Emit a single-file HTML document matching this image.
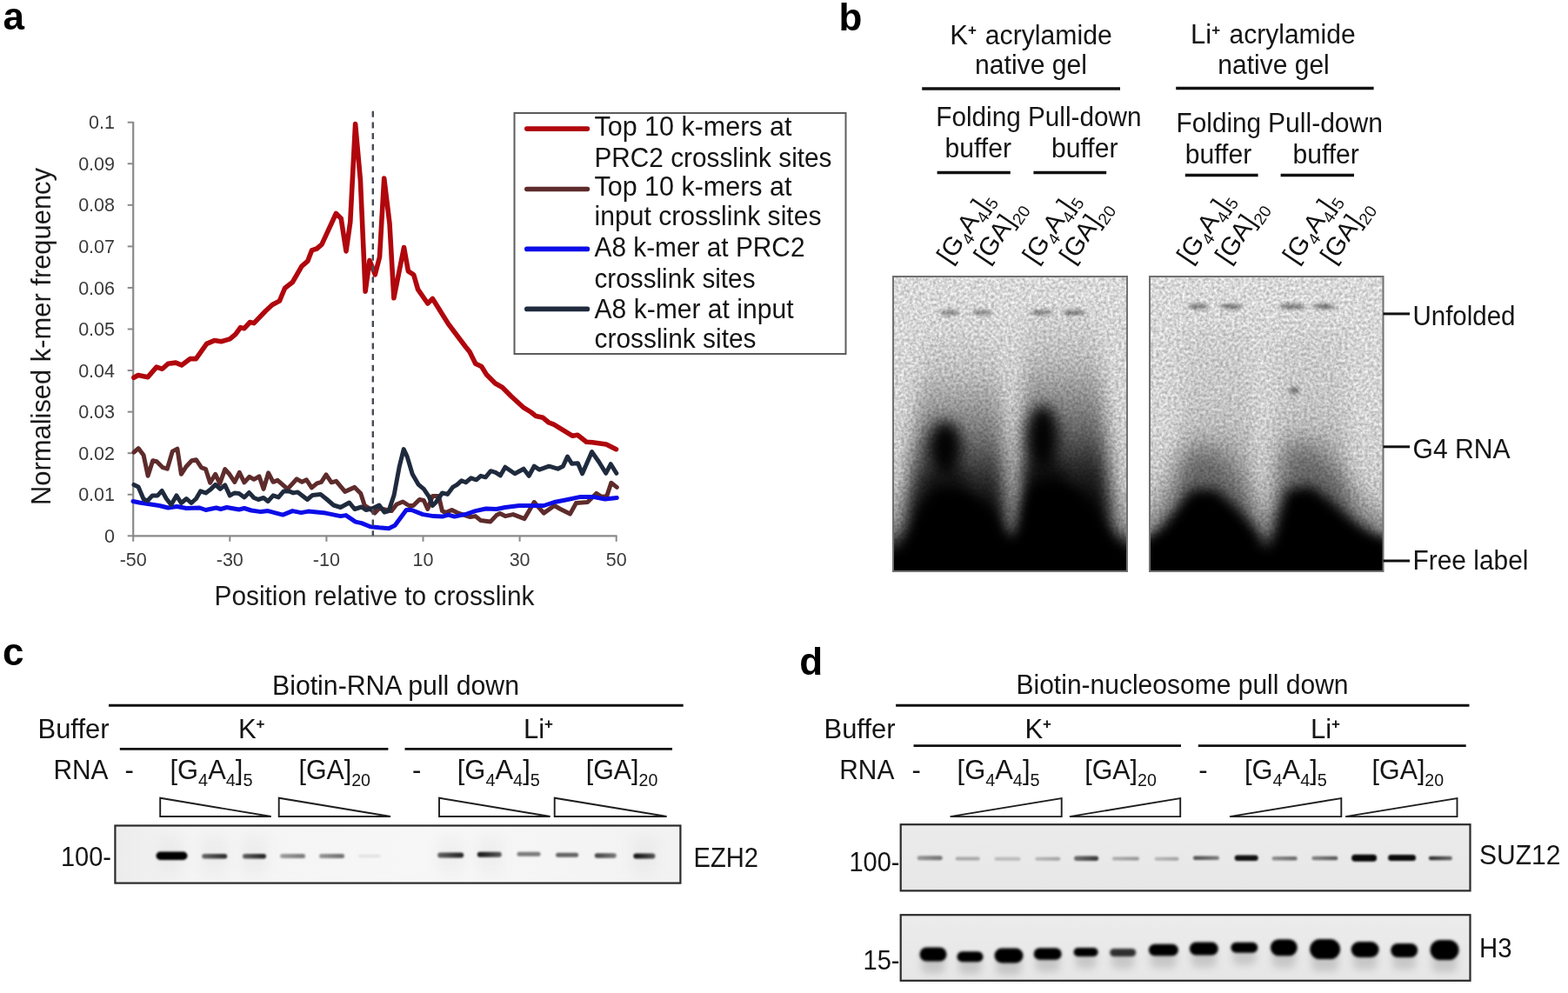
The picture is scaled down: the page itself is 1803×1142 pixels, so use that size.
<!DOCTYPE html>
<html><head><meta charset="utf-8"><title>Figure</title>
<style>html,body{margin:0;padding:0;background:#fff;}svg{display:block;}</style></head>
<body><svg width="1803" height="1142" viewBox="0 0 1803 1142" font-family="'Liberation Sans', Arial, Helvetica, sans-serif">
<defs>
<filter id="b12s" x="-50%" y="-100%" width="200%" height="300%"><feGaussianBlur stdDeviation="1.1"/></filter>
<filter id="b15" x="-50%" y="-100%" width="200%" height="300%"><feGaussianBlur stdDeviation="1.5"/></filter>
<filter id="b2" x="-50%" y="-100%" width="200%" height="300%"><feGaussianBlur stdDeviation="2"/></filter>
<filter id="b4" x="-50%" y="-100%" width="200%" height="300%"><feGaussianBlur stdDeviation="4"/></filter>
<filter id="b7" x="-30%" y="-30%" width="160%" height="160%"><feGaussianBlur stdDeviation="7"/></filter>
<filter id="b8" x="-50%" y="-50%" width="200%" height="200%"><feGaussianBlur stdDeviation="8"/></filter>
<filter id="b10" x="-50%" y="-50%" width="200%" height="200%"><feGaussianBlur stdDeviation="10"/></filter>
<filter id="b12" x="-50%" y="-50%" width="200%" height="200%"><feGaussianBlur stdDeviation="12"/></filter>
<filter id="b14" x="-50%" y="-50%" width="200%" height="200%"><feGaussianBlur stdDeviation="14"/></filter>
<filter id="b16" x="-50%" y="-50%" width="200%" height="200%"><feGaussianBlur stdDeviation="16"/></filter>
<filter id="gr" x="0" y="0" width="100%" height="100%" color-interpolation-filters="sRGB"><feTurbulence type="fractalNoise" baseFrequency="0.3" numOctaves="2" seed="5" result="t"/><feColorMatrix in="t" type="matrix" values="1 0 0 0 0 1 0 0 0 0 1 0 0 0 0 0 0 0 0 1" result="n0"/><feGaussianBlur in="n0" stdDeviation="0.5" result="n"/><feComposite in="SourceGraphic" in2="n" operator="arithmetic" k1="0.55" k2="0.73" k3="0" k4="0"/></filter>

<clipPath id="clipg1"><rect x="1027" y="318" width="269" height="339"/></clipPath>
<clipPath id="clipg2"><rect x="1322" y="318" width="268.5" height="339"/></clipPath>
<linearGradient id="gelbg" x1="0" y1="0" x2="0" y2="1"><stop offset="0" stop-color="#d8d8d8"/><stop offset="0.45" stop-color="#d2d2d2"/><stop offset="0.7" stop-color="#c6c6c6"/><stop offset="0.82" stop-color="#a8a8a8"/><stop offset="0.92" stop-color="#585858"/><stop offset="1" stop-color="#000"/></linearGradient>
<linearGradient id="gelbg2" x1="0" y1="0" x2="0" y2="1"><stop offset="0" stop-color="#d8d8d8"/><stop offset="0.5" stop-color="#d2d2d2"/><stop offset="0.76" stop-color="#c8c8c8"/><stop offset="0.86" stop-color="#bcbcbc"/><stop offset="0.93" stop-color="#7a7a7a"/><stop offset="1" stop-color="#000"/></linearGradient>
<linearGradient id="smear" x1="0" y1="0" x2="0" y2="1"><stop offset="0" stop-color="#000" stop-opacity="0"/><stop offset="0.2" stop-color="#000" stop-opacity="0.1"/><stop offset="0.45" stop-color="#000" stop-opacity="0.45"/><stop offset="0.62" stop-color="#000" stop-opacity="0.8"/><stop offset="0.75" stop-color="#000" stop-opacity="0.97"/><stop offset="1" stop-color="#000" stop-opacity="1"/></linearGradient><linearGradient id="smearR" x1="0" y1="0" x2="0" y2="1"><stop offset="0" stop-color="#000" stop-opacity="0"/><stop offset="0.2" stop-color="#000" stop-opacity="0.12"/><stop offset="0.45" stop-color="#000" stop-opacity="0.5"/><stop offset="0.62" stop-color="#000" stop-opacity="0.85"/><stop offset="0.75" stop-color="#000" stop-opacity="0.97"/><stop offset="1" stop-color="#000" stop-opacity="1"/></linearGradient>
<linearGradient id="smear2" x1="0" y1="0" x2="0" y2="1"><stop offset="0" stop-color="#000" stop-opacity="0.03"/><stop offset="0.4" stop-color="#000" stop-opacity="0.07"/><stop offset="0.7" stop-color="#000" stop-opacity="0.18"/><stop offset="1" stop-color="#000" stop-opacity="0.35"/></linearGradient><linearGradient id="botfade" x1="0" y1="0" x2="0" y2="1"><stop offset="0" stop-color="#000" stop-opacity="0"/><stop offset="0.35" stop-color="#000" stop-opacity="0.6"/><stop offset="0.55" stop-color="#000" stop-opacity="1"/><stop offset="1" stop-color="#000" stop-opacity="1"/></linearGradient>
<linearGradient id="blotc" x1="0" y1="0" x2="1" y2="0"><stop offset="0" stop-color="#ececec"/><stop offset="0.12" stop-color="#f4f4f4"/><stop offset="0.6" stop-color="#f7f7f7"/><stop offset="1" stop-color="#f2f2f2"/></linearGradient>
<linearGradient id="blots" x1="0" y1="0" x2="0" y2="1"><stop offset="0" stop-color="#ebebeb"/><stop offset="1" stop-color="#e7e7e7"/></linearGradient>
<linearGradient id="bloth" x1="0" y1="0" x2="0" y2="1"><stop offset="0" stop-color="#ececec"/><stop offset="1" stop-color="#e6e6e6"/></linearGradient>
<linearGradient id="bgR" x1="0" y1="0" x2="1" y2="0"><stop offset="0" stop-color="#000" stop-opacity="0.7"/><stop offset="0.75" stop-color="#000" stop-opacity="0.95"/><stop offset="1" stop-color="#000"/></linearGradient>
<linearGradient id="bgL" x1="0" y1="0" x2="1" y2="0"><stop offset="0" stop-color="#000"/><stop offset="0.25" stop-color="#000" stop-opacity="0.95"/><stop offset="1" stop-color="#000" stop-opacity="0.7"/></linearGradient>
</defs>
<rect width="1803" height="1142" fill="#fff"/>
<text x="3.5" y="34.3" font-size="44" fill="#000" font-weight="bold">a</text>
<line x1="153.2" y1="140" x2="153.2" y2="617.3" stroke="#8a8a8a" stroke-width="2.2"/>
<line x1="152.2" y1="616.3" x2="709.5" y2="616.3" stroke="#8a8a8a" stroke-width="2.2"/>
<line x1="146.7" y1="616.3" x2="153.2" y2="616.3" stroke="#8a8a8a" stroke-width="2"/>
<text x="132" y="623.9" font-size="21.5" fill="#3a3a3a" text-anchor="end">0</text>
<line x1="146.7" y1="568.74" x2="153.2" y2="568.74" stroke="#8a8a8a" stroke-width="2"/>
<text x="132" y="576.34" font-size="21.5" fill="#3a3a3a" text-anchor="end">0.01</text>
<line x1="146.7" y1="521.18" x2="153.2" y2="521.18" stroke="#8a8a8a" stroke-width="2"/>
<text x="132" y="528.78" font-size="21.5" fill="#3a3a3a" text-anchor="end">0.02</text>
<line x1="146.7" y1="473.61999999999995" x2="153.2" y2="473.61999999999995" stroke="#8a8a8a" stroke-width="2"/>
<text x="132" y="481.21999999999997" font-size="21.5" fill="#3a3a3a" text-anchor="end">0.03</text>
<line x1="146.7" y1="426.05999999999995" x2="153.2" y2="426.05999999999995" stroke="#8a8a8a" stroke-width="2"/>
<text x="132" y="433.65999999999997" font-size="21.5" fill="#3a3a3a" text-anchor="end">0.04</text>
<line x1="146.7" y1="378.49999999999994" x2="153.2" y2="378.49999999999994" stroke="#8a8a8a" stroke-width="2"/>
<text x="132" y="386.09999999999997" font-size="21.5" fill="#3a3a3a" text-anchor="end">0.05</text>
<line x1="146.7" y1="330.93999999999994" x2="153.2" y2="330.93999999999994" stroke="#8a8a8a" stroke-width="2"/>
<text x="132" y="338.53999999999996" font-size="21.5" fill="#3a3a3a" text-anchor="end">0.06</text>
<line x1="146.7" y1="283.37999999999994" x2="153.2" y2="283.37999999999994" stroke="#8a8a8a" stroke-width="2"/>
<text x="132" y="290.97999999999996" font-size="21.5" fill="#3a3a3a" text-anchor="end">0.07</text>
<line x1="146.7" y1="235.81999999999994" x2="153.2" y2="235.81999999999994" stroke="#8a8a8a" stroke-width="2"/>
<text x="132" y="243.41999999999993" font-size="21.5" fill="#3a3a3a" text-anchor="end">0.08</text>
<line x1="146.7" y1="188.25999999999993" x2="153.2" y2="188.25999999999993" stroke="#8a8a8a" stroke-width="2"/>
<text x="132" y="195.85999999999993" font-size="21.5" fill="#3a3a3a" text-anchor="end">0.09</text>
<line x1="146.7" y1="140.69999999999993" x2="153.2" y2="140.69999999999993" stroke="#8a8a8a" stroke-width="2"/>
<text x="132" y="148.29999999999993" font-size="21.5" fill="#3a3a3a" text-anchor="end">0.1</text>
<line x1="153.2" y1="616.3" x2="153.2" y2="622.8" stroke="#8a8a8a" stroke-width="2"/>
<text x="153.2" y="650.5" font-size="21.5" fill="#3a3a3a" text-anchor="middle">-50</text>
<line x1="264.29999999999995" y1="616.3" x2="264.29999999999995" y2="622.8" stroke="#8a8a8a" stroke-width="2"/>
<text x="264.29999999999995" y="650.5" font-size="21.5" fill="#3a3a3a" text-anchor="middle">-30</text>
<line x1="375.4" y1="616.3" x2="375.4" y2="622.8" stroke="#8a8a8a" stroke-width="2"/>
<text x="375.4" y="650.5" font-size="21.5" fill="#3a3a3a" text-anchor="middle">-10</text>
<line x1="486.49999999999994" y1="616.3" x2="486.49999999999994" y2="622.8" stroke="#8a8a8a" stroke-width="2"/>
<text x="486.49999999999994" y="650.5" font-size="21.5" fill="#3a3a3a" text-anchor="middle">10</text>
<line x1="597.5999999999999" y1="616.3" x2="597.5999999999999" y2="622.8" stroke="#8a8a8a" stroke-width="2"/>
<text x="597.5999999999999" y="650.5" font-size="21.5" fill="#3a3a3a" text-anchor="middle">30</text>
<line x1="708.7" y1="616.3" x2="708.7" y2="622.8" stroke="#8a8a8a" stroke-width="2"/>
<text x="708.7" y="650.5" font-size="21.5" fill="#3a3a3a" text-anchor="middle">50</text>
<polyline points="153.9,434.3 158.9,431.5 170.0,433.7 180.0,422.1 186.6,424.3 193.3,418.2 202.1,417.1 208.8,419.9 218.8,412.6 225.4,412.6 237.6,395.4 246.5,391.6 254.3,392.7 264.3,389.9 270.9,384.4 276.5,376.6 280.9,377.7 287.5,370.5 292.0,371.6 305.3,357.7 313.1,350.5 321.4,346.1 325.3,336.7 327.7,331.2 336.4,324.5 347.0,306.2 353.7,300.4 358.5,287.9 364.3,286.0 370.0,281.2 386.4,245.5 392.2,251.3 398.0,288.9 402.8,255.2 408.6,142.5 414.4,207.0 420.1,335.1 425.0,299.5 431.3,315.8 436.5,295.6 441.7,205.1 448.0,257.1 452.9,342.8 464.5,284.5 469.4,311.8 475.7,316.0 480.6,332.9 491.8,349.0 497.4,343.4 515.7,372.8 535.3,398.7 540.0,404.6 546.8,418.2 553.7,421.6 559.4,430.7 569.6,441.0 577.6,445.5 587.8,455.8 601.5,468.3 610.6,474.0 616.3,478.6 624.3,480.3 631.1,486.0 636.8,488.2 658.4,501.3 664.1,500.2 674.3,508.2 681.2,508.7 697.1,511.0 708.5,516.7" fill="none" stroke="#b0070d" stroke-width="5.6" stroke-linejoin="round" stroke-linecap="round"/>
<polyline points="154.0,520.1 159.1,515.6 165.1,523.6 170.1,547.3 175.7,529.7 180.2,530.7 187.2,537.7 192.3,539.2 198.3,519.1 203.9,516.1 208.4,545.3 214.4,536.2 220.5,529.7 225.5,528.7 231.5,537.7 236.6,539.7 241.6,555.3 247.7,545.3 252.7,556.3 258.7,539.7 263.8,545.3 269.8,554.3 275.3,543.3 280.9,554.8 286.9,548.3 292.0,551.3 298.0,547.8 303.1,562.4 308.6,543.8 314.1,554.3 319.2,552.3 330.7,562.4 341.3,550.8 347.3,554.3 352.4,551.8 358.4,560.9 364.5,555.8 369.5,554.3 375.0,545.8 381.1,554.8 386.6,553.3 396.7,565.4 407.8,560.4 414.8,567.4 419.3,581.5 425.9,585.5 430.9,590.1 436.0,584.5 450.1,587.6 456.1,580.0 463.2,577.0 470.2,581.5 475.2,581.5 482.3,574.5 487.3,575.5 491.8,585.5 497.4,570.4 504.4,570.4 508.5,587.6 512.5,589.6 519.5,586.5 525.6,589.6 540.7,594.6 546.7,593.6 552.8,598.6 563.8,600.1 570.9,592.6 574.9,590.6 580.9,593.6 590.0,591.6 603.1,596.6 614.2,577.5 625.3,590.1 637.4,581.5 644.4,585.5 655.5,591.1 662.5,578.5 675.6,577.5 685.7,567.4 691.7,571.4 697.8,570.4 702.8,555.3 709.3,560.4" fill="none" stroke="#5e2b2b" stroke-width="5" stroke-linejoin="round" stroke-linecap="round"/>
<polyline points="153.0,576.5 160.1,578.0 170.1,579.5 183.2,581.5 193.3,584.0 203.4,582.5 214.4,584.5 229.5,584.0 236.6,586.5 248.7,584.0 253.7,585.5 260.7,583.5 274.8,586.0 280.9,584.5 288.9,587.0 300.0,588.6 308.1,587.6 325.2,592.1 336.3,587.6 346.3,589.6 354.4,588.1 374.5,590.1 391.6,593.6 397.7,592.6 408.8,600.1 415.8,601.6 425.9,605.7 436.0,606.8 447.0,607.7 454.1,604.2 467.2,586.5 473.2,586.5 486.3,591.6 498.4,593.6 508.5,594.1 515.5,592.1 522.6,594.1 536.6,591.1 546.7,587.6 558.8,585.0 570.9,585.5 580.9,583.5 597.1,581.5 610.2,581.5 625.3,581.5 637.4,577.5 650.4,575.0 667.6,571.4 681.6,571.4 695.7,574.0 709.3,572.5" fill="none" stroke="#0c0ce8" stroke-width="5" stroke-linejoin="round" stroke-linecap="round"/>
<polyline points="154.0,557.4 159.1,559.9 165.1,574.0 169.6,576.0 175.2,569.9 181.2,569.9 186.2,564.4 191.3,573.5 196.8,580.5 202.9,569.9 208.4,578.5 214.4,573.5 220.0,578.5 225.5,573.5 230.5,564.9 236.6,566.9 242.6,562.4 247.7,557.4 253.2,562.4 258.7,557.9 264.3,569.9 269.8,566.9 274.8,567.4 280.9,571.9 286.4,566.4 292.0,572.5 297.0,574.5 303.1,572.5 308.1,576.5 314.1,569.9 320.2,571.9 326.2,564.9 332.2,564.9 337.3,566.9 342.3,565.9 353.4,574.5 359.4,569.4 368.5,568.4 375.5,574.0 383.6,581.0 391.6,583.5 401.7,578.0 407.8,585.5 415.8,583.0 420.8,586.5 428.9,584.5 436.0,581.0 442.0,589.1 447.0,587.6 453.1,569.4 459.1,537.2 464.2,516.6 468.2,525.1 474.2,545.3 481.3,557.4 487.3,562.4 493.4,571.4 497.4,581.5 501.4,577.5 508.5,566.9 514.5,568.4 520.5,560.4 525.6,557.4 530.6,552.8 535.6,554.8 541.7,549.8 547.7,551.8 552.8,547.3 558.3,548.8 564.3,541.7 569.9,543.3 575.4,546.8 580.9,537.2 592.0,544.8 602.1,539.2 608.2,547.3 614.2,536.2 620.2,540.2 631.3,536.2 641.4,539.2 647.4,536.2 652.5,525.1 657.5,533.2 664.5,532.7 669.6,544.8 680.6,519.6 688.7,531.2 696.7,544.3 702.3,533.7 708.8,544.3" fill="none" stroke="#1f2b3d" stroke-width="5" stroke-linejoin="round" stroke-linecap="round"/>
<line x1="428.8" y1="127.7" x2="428.8" y2="616" stroke="#464b56" stroke-width="2.4" stroke-dasharray="7,5.7"/>
<text x="246.5" y="696.1" font-size="31" fill="#1a1a1a" textLength="368" lengthAdjust="spacingAndGlyphs">Position relative to crosslink</text>
<text transform="translate(58,581) rotate(-90)" font-size="31" fill="#1a1a1a" textLength="388" lengthAdjust="spacingAndGlyphs">Normalised k-mer frequency</text>
<rect x="591.5" y="130" width="381" height="277" fill="#fff" stroke="#5c5c5c" stroke-width="2"/>
<line x1="605.8" y1="148.1" x2="675.4" y2="148.1" stroke="#b0070d" stroke-width="5.6" stroke-linecap="round"/>
<line x1="605.8" y1="217.5" x2="675.4" y2="217.5" stroke="#5e2b2b" stroke-width="5.6" stroke-linecap="round"/>
<line x1="605.8" y1="286.4" x2="675.4" y2="286.4" stroke="#0c0ce8" stroke-width="5.6" stroke-linecap="round"/>
<line x1="605.8" y1="355.4" x2="675.4" y2="355.4" stroke="#1f2b3d" stroke-width="5.6" stroke-linecap="round"/>
<text x="683.5" y="156.0" font-size="31" fill="#141414" textLength="227" lengthAdjust="spacingAndGlyphs">Top 10 k-mers at</text>
<text x="683.5" y="191.5" font-size="31" fill="#141414" textLength="273" lengthAdjust="spacingAndGlyphs">PRC2 crosslink sites</text>
<text x="683.5" y="224.5" font-size="31" fill="#141414" textLength="227" lengthAdjust="spacingAndGlyphs">Top 10 k-mers at</text>
<text x="683.5" y="258.8" font-size="31" fill="#141414" textLength="261" lengthAdjust="spacingAndGlyphs">input crosslink sites</text>
<text x="683.5" y="295.1" font-size="31" fill="#141414" textLength="242" lengthAdjust="spacingAndGlyphs">A8 k-mer at PRC2</text>
<text x="683.5" y="330.6" font-size="31" fill="#141414" textLength="185" lengthAdjust="spacingAndGlyphs">crosslink sites</text>
<text x="683.5" y="366.0" font-size="31" fill="#141414" textLength="229" lengthAdjust="spacingAndGlyphs">A8 k-mer at input</text>
<text x="683.5" y="400.4" font-size="31" fill="#141414" textLength="186" lengthAdjust="spacingAndGlyphs">crosslink sites</text>
<text x="964.5" y="34.6" font-size="44" fill="#000" font-weight="bold">b</text>
<text x="1092.2" y="50.7" font-size="31" fill="#141414">K</text>
<text x="1113" y="40" font-size="17" fill="#141414" font-weight="bold">+</text>
<text x="1132.8" y="50.7" font-size="31" fill="#141414" textLength="146" lengthAdjust="spacingAndGlyphs">acrylamide</text>
<text x="1121" y="85.4" font-size="31" fill="#141414" textLength="129" lengthAdjust="spacingAndGlyphs">native gel</text>
<line x1="1060.2" y1="102.1" x2="1288" y2="102.1" stroke="#111" stroke-width="3.5"/>
<text x="1076.3" y="145.1" font-size="31" fill="#141414" textLength="97.5" lengthAdjust="spacingAndGlyphs">Folding</text>
<text x="1182" y="145.1" font-size="31" fill="#141414" textLength="130.5" lengthAdjust="spacingAndGlyphs">Pull-down</text>
<text x="1086.5" y="180.8" font-size="31" fill="#141414" textLength="76.5" lengthAdjust="spacingAndGlyphs">buffer</text>
<text x="1209" y="180.8" font-size="31" fill="#141414" textLength="76.5" lengthAdjust="spacingAndGlyphs">buffer</text>
<line x1="1077.6" y1="198.5" x2="1161.8" y2="198.5" stroke="#111" stroke-width="3.5"/>
<line x1="1188.4" y1="198.5" x2="1272.2" y2="198.5" stroke="#111" stroke-width="3.5"/>
<text x="1369" y="50.3" font-size="31" fill="#141414">Li</text>
<text x="1393.3" y="40" font-size="17" fill="#141414" font-weight="bold">+</text>
<text x="1413.6" y="50.3" font-size="31" fill="#141414" textLength="145" lengthAdjust="spacingAndGlyphs">acrylamide</text>
<text x="1400.3" y="85.4" font-size="31" fill="#141414" textLength="128.5" lengthAdjust="spacingAndGlyphs">native gel</text>
<line x1="1352.2" y1="101.6" x2="1579.6" y2="101.6" stroke="#111" stroke-width="3.5"/>
<text x="1352.6" y="151.9" font-size="31" fill="#141414" textLength="97.5" lengthAdjust="spacingAndGlyphs">Folding</text>
<text x="1458" y="151.9" font-size="31" fill="#141414" textLength="132" lengthAdjust="spacingAndGlyphs">Pull-down</text>
<text x="1362.7" y="187.5" font-size="31" fill="#141414" textLength="76.5" lengthAdjust="spacingAndGlyphs">buffer</text>
<text x="1486.4" y="187.5" font-size="31" fill="#141414" textLength="76.5" lengthAdjust="spacingAndGlyphs">buffer</text>
<line x1="1362.8" y1="201.4" x2="1446.6" y2="201.4" stroke="#111" stroke-width="3.5"/>
<line x1="1472.6" y1="201.4" x2="1557" y2="201.4" stroke="#111" stroke-width="3.5"/>
<text transform="translate(1092.4,304.7) rotate(-56)" font-size="29.5" fill="#111"><tspan font-size="29.5">[G</tspan><tspan font-size="19" dy="7">4</tspan><tspan font-size="29.5" dy="-7">A</tspan><tspan font-size="19" dy="7">4</tspan><tspan font-size="29.5" dy="-7">]</tspan><tspan font-size="19" dy="7">5</tspan></text>
<text transform="translate(1135.0,304.7) rotate(-56)" font-size="29.5" fill="#111"><tspan font-size="29.5">[GA]</tspan><tspan font-size="19" dy="7">20</tspan></text>
<text transform="translate(1190.9,304.7) rotate(-56)" font-size="29.5" fill="#111"><tspan font-size="29.5">[G</tspan><tspan font-size="19" dy="7">4</tspan><tspan font-size="29.5" dy="-7">A</tspan><tspan font-size="19" dy="7">4</tspan><tspan font-size="29.5" dy="-7">]</tspan><tspan font-size="19" dy="7">5</tspan></text>
<text transform="translate(1233.5,304.7) rotate(-56)" font-size="29.5" fill="#111"><tspan font-size="29.5">[GA]</tspan><tspan font-size="19" dy="7">20</tspan></text>
<text transform="translate(1368.4,304.7) rotate(-56)" font-size="29.5" fill="#111"><tspan font-size="29.5">[G</tspan><tspan font-size="19" dy="7">4</tspan><tspan font-size="29.5" dy="-7">A</tspan><tspan font-size="19" dy="7">4</tspan><tspan font-size="29.5" dy="-7">]</tspan><tspan font-size="19" dy="7">5</tspan></text>
<text transform="translate(1412.4,304.7) rotate(-56)" font-size="29.5" fill="#111"><tspan font-size="29.5">[GA]</tspan><tspan font-size="19" dy="7">20</tspan></text>
<text transform="translate(1490.3,304.7) rotate(-56)" font-size="29.5" fill="#111"><tspan font-size="29.5">[G</tspan><tspan font-size="19" dy="7">4</tspan><tspan font-size="29.5" dy="-7">A</tspan><tspan font-size="19" dy="7">4</tspan><tspan font-size="29.5" dy="-7">]</tspan><tspan font-size="19" dy="7">5</tspan></text>
<text transform="translate(1533.5,304.7) rotate(-56)" font-size="29.5" fill="#111"><tspan font-size="29.5">[GA]</tspan><tspan font-size="19" dy="7">20</tspan></text>
<g clip-path="url(#clipg1)"><g filter="url(#gr)">
<rect x="1027" y="318" width="269" height="339" fill="url(#gelbg)"/>
<g filter="url(#b10)">
<polygon points="1064,370 1150,370 1160,665 1034,665" fill="url(#smear)"/>
<polygon points="1177,350 1262,350 1284,665 1172,665" fill="url(#smearR)"/>
</g>
<g filter="url(#b2)" fill="#707070">
<ellipse cx="1092" cy="359.5" rx="12" ry="2.4"/>
<ellipse cx="1129" cy="359.5" rx="12" ry="2.4"/>
<ellipse cx="1198" cy="359.5" rx="13" ry="2.4"/>
<ellipse cx="1236" cy="359.5" rx="13" ry="2.4"/>
<circle cx="1229" cy="359.5" r="2.2" fill="#222"/>
</g>
<g filter="url(#b8)" fill="#000">
<ellipse cx="1087" cy="514" rx="19" ry="30" opacity="0.97"/>
<ellipse cx="1199" cy="502" rx="18" ry="36" opacity="0.97"/>
<ellipse cx="1090" cy="552" rx="24" ry="14" opacity="0.55"/>
<ellipse cx="1202" cy="546" rx="24" ry="16" opacity="0.55"/>
</g>
<path filter="url(#b7)" fill="#000" d="M1020,670 L1020,652 L1040,632 L1052,606 L1062,580 L1072,560 L1104,560 L1124,572 L1142,590 L1152,610 L1162,622 L1170,610 L1176,580 L1184,555 L1214,550 L1236,560 L1254,578 L1266,600 L1280,620 L1300,636 L1300,670 Z"/>
<rect x="1020" y="610" width="290" height="60" fill="url(#botfade)" filter="url(#b4)"/>
</g></g>
<rect x="1027" y="318" width="269" height="339" fill="none" stroke="#707070" stroke-width="2"/>
<g clip-path="url(#clipg2)"><g filter="url(#gr)">
<rect x="1322" y="318" width="268.5" height="339" fill="url(#gelbg2)"/>
<g filter="url(#b10)">
<polygon points="1358,375 1440,375 1440,600 1358,600" fill="url(#smear2)"/>
<polygon points="1466,375 1548,375 1548,600 1466,600" fill="url(#smear2)"/>
</g>
<g filter="url(#b2)" fill="#5e5e5e">
<ellipse cx="1378" cy="352.5" rx="12" ry="2.4"/>
<ellipse cx="1416" cy="352.5" rx="13" ry="2.4"/>
<ellipse cx="1486" cy="352.5" rx="15" ry="2.4"/>
<ellipse cx="1523" cy="352.5" rx="13" ry="2.4"/>
<ellipse cx="1488" cy="449" rx="6" ry="3.5" fill="#6a6a6a"/>
</g>
<path filter="url(#b14)" fill="#000" fill-opacity="0.38" d="M1364,515 L1406,515 L1446,595 L1464,595 L1478,510 L1512,510 L1575,585 L1600,605 L1600,670 L1315,670 L1315,610 Z"/>
<path filter="url(#b7)" fill="#000" d="M1315,670 L1315,624 L1334,608 L1352,586 L1370,563 L1398,563 L1426,588 L1446,610 L1452,634 L1460,634 L1466,606 L1480,563 L1508,559 L1532,578 L1556,598 L1578,614 L1600,624 L1600,670 Z"/>
<rect x="1315" y="612" width="290" height="60" fill="url(#botfade)" filter="url(#b4)"/>
</g></g>
<rect x="1322" y="318" width="268.5" height="339" fill="none" stroke="#707070" stroke-width="2"/>
<line x1="1590.5" y1="360.9" x2="1621" y2="360.9" stroke="#111" stroke-width="3"/>
<text x="1624.5" y="373.5" font-size="31" fill="#141414" textLength="118" lengthAdjust="spacingAndGlyphs">Unfolded</text>
<line x1="1590.5" y1="513.8" x2="1621" y2="513.8" stroke="#111" stroke-width="3"/>
<text x="1624.5" y="527.3" font-size="31" fill="#141414" textLength="112" lengthAdjust="spacingAndGlyphs">G4 RNA</text>
<line x1="1590.5" y1="645" x2="1621" y2="645" stroke="#111" stroke-width="3"/>
<text x="1624.5" y="655.2" font-size="31" fill="#141414" textLength="133" lengthAdjust="spacingAndGlyphs">Free label</text>
<text x="3" y="765.3" font-size="44" fill="#000" font-weight="bold">c</text>
<text x="313" y="798.9" font-size="31" fill="#141414" textLength="284" lengthAdjust="spacingAndGlyphs">Biotin-RNA pull down</text>
<line x1="125" y1="811.3" x2="785.7" y2="811.3" stroke="#111" stroke-width="3"/>
<text x="43.5" y="848.5" font-size="31" fill="#141414" textLength="82" lengthAdjust="spacingAndGlyphs">Buffer</text>
<text x="274" y="848.5" font-size="31" fill="#141414">K</text>
<text x="294.5" y="838" font-size="17" fill="#141414" font-weight="bold">+</text>
<text x="602" y="848.6" font-size="31" fill="#141414">Li</text>
<text x="626" y="838" font-size="17" fill="#141414" font-weight="bold">+</text>
<line x1="137.8" y1="861.4" x2="446.4" y2="861.4" stroke="#111" stroke-width="2.6"/>
<line x1="465.5" y1="861.4" x2="773" y2="861.4" stroke="#111" stroke-width="2.6"/>
<text x="61.5" y="896.4" font-size="31" fill="#141414" textLength="63" lengthAdjust="spacingAndGlyphs">RNA</text>
<text x="143.5" y="896.4" font-size="31" fill="#141414">-</text>
<text x="474" y="896.4" font-size="31" fill="#141414">-</text>
<text x="195.5" y="896.1" font-size="31" fill="#141414" textLength="95" lengthAdjust="spacingAndGlyphs"><tspan>[G</tspan><tspan font-size="20" dy="7.5">4</tspan><tspan font-size="31" dy="-7.5">A</tspan><tspan font-size="20" dy="7.5">4</tspan><tspan font-size="31" dy="-7.5">]</tspan><tspan font-size="20" dy="7.5">5</tspan></text>
<text x="343.5" y="896.1" font-size="31" fill="#141414" textLength="82.5" lengthAdjust="spacingAndGlyphs"><tspan>[GA]</tspan><tspan font-size="20" dy="7.5">20</tspan></text>
<text x="525.8" y="896.1" font-size="31" fill="#141414" textLength="95" lengthAdjust="spacingAndGlyphs"><tspan>[G</tspan><tspan font-size="20" dy="7.5">4</tspan><tspan font-size="31" dy="-7.5">A</tspan><tspan font-size="20" dy="7.5">4</tspan><tspan font-size="31" dy="-7.5">]</tspan><tspan font-size="20" dy="7.5">5</tspan></text>
<text x="673.8" y="896.1" font-size="31" fill="#141414" textLength="82.5" lengthAdjust="spacingAndGlyphs"><tspan>[GA]</tspan><tspan font-size="20" dy="7.5">20</tspan></text>
<polygon points="184.2,917.7 184.2,939 311.7,939" fill="#fff" stroke="#1e1e1e" stroke-width="1.9" stroke-linejoin="miter"/>
<polygon points="320.7,917.7 320.7,939 449,939" fill="#fff" stroke="#1e1e1e" stroke-width="1.9" stroke-linejoin="miter"/>
<polygon points="505,917.7 505,939 632.6,939" fill="#fff" stroke="#1e1e1e" stroke-width="1.9" stroke-linejoin="miter"/>
<polygon points="637.7,917.7 637.7,939 766.6,939" fill="#fff" stroke="#1e1e1e" stroke-width="1.9" stroke-linejoin="miter"/>
<rect x="132.4" y="949.5" width="650" height="66.1" fill="url(#blotc)"/>
<g filter="url(#b8)" fill="#000">
<rect x="183" y="962" width="28" height="44" fill-opacity="0.03"/>
<rect x="232.5" y="962" width="28" height="44" fill-opacity="0.03"/>
<rect x="278.5" y="962" width="28" height="44" fill-opacity="0.03"/>
<rect x="504" y="962" width="28" height="44" fill-opacity="0.03"/>
<rect x="549" y="962" width="28" height="44" fill-opacity="0.03"/>
<rect x="727" y="962" width="28" height="44" fill-opacity="0.03"/>
</g>
<rect x="179.5" y="979.5" width="36" height="9.5" rx="4.8" ry="4.8" fill="#000" opacity="1.0" filter="url(#b12s)"/>
<rect x="232.2" y="982.0" width="29" height="5.5" rx="2.8" ry="2.8" fill="url(#bgR)" opacity="0.82" filter="url(#b12s)"/>
<rect x="279.0" y="982.0" width="27" height="5.5" rx="2.8" ry="2.8" fill="url(#bgR)" opacity="0.86" filter="url(#b12s)"/>
<rect x="322.0" y="982.0" width="29" height="5" rx="2.5" ry="2.5" fill="url(#bgR)" opacity="0.5" filter="url(#b12s)"/>
<rect x="367.0" y="982.0" width="29" height="5" rx="2.5" ry="2.5" fill="url(#bgR)" opacity="0.55" filter="url(#b12s)"/>
<rect x="412.0" y="982.5" width="26" height="4" rx="2.0" ry="2.0" fill="#000" opacity="0.07" filter="url(#b12s)"/>
<rect x="503.2" y="980.6" width="30" height="6" rx="3.0" ry="3.0" fill="url(#bgR)" opacity="0.85" filter="url(#b12s)"/>
<rect x="548.8" y="979.8" width="28" height="6" rx="3.0" ry="3.0" fill="url(#bgL)" opacity="0.9" filter="url(#b12s)"/>
<rect x="594.5" y="979.8" width="27" height="5" rx="2.5" ry="2.5" fill="#000" opacity="0.5" filter="url(#b12s)"/>
<rect x="639.1" y="980.7" width="26" height="5" rx="2.5" ry="2.5" fill="#000" opacity="0.6" filter="url(#b12s)"/>
<rect x="683.8" y="981.2" width="25" height="5.5" rx="2.8" ry="2.8" fill="url(#bgL)" opacity="0.72" filter="url(#b12s)"/>
<rect x="728.4" y="981.5" width="25" height="6" rx="3.0" ry="3.0" fill="url(#bgL)" opacity="0.92" filter="url(#b12s)"/>
<rect x="132.4" y="949.5" width="650" height="66.1" fill="none" stroke="#2a2a2a" stroke-width="2.2"/>
<text x="70" y="996.0" font-size="31" fill="#141414" textLength="58" lengthAdjust="spacingAndGlyphs">100-</text>
<text x="797.5" y="996.6" font-size="31" fill="#141414" textLength="74.5" lengthAdjust="spacingAndGlyphs">EZH2</text>
<text x="919.3" y="776.2" font-size="44" fill="#000" font-weight="bold">d</text>
<text x="1168.5" y="798.2" font-size="31" fill="#141414" textLength="382" lengthAdjust="spacingAndGlyphs">Biotin-nucleosome pull down</text>
<line x1="1030.1" y1="811.3" x2="1689.5" y2="811.3" stroke="#111" stroke-width="3"/>
<text x="947.5" y="848.5" font-size="31" fill="#141414" textLength="82" lengthAdjust="spacingAndGlyphs">Buffer</text>
<text x="1178.5" y="848.5" font-size="31" fill="#141414">K</text>
<text x="1199" y="838" font-size="17" fill="#141414" font-weight="bold">+</text>
<text x="1507" y="848.6" font-size="31" fill="#141414">Li</text>
<text x="1531" y="838" font-size="17" fill="#141414" font-weight="bold">+</text>
<line x1="1050.5" y1="857.6" x2="1358" y2="857.6" stroke="#111" stroke-width="2.6"/>
<line x1="1377.8" y1="857.6" x2="1685.7" y2="857.6" stroke="#111" stroke-width="2.6"/>
<text x="965.3" y="896.4" font-size="31" fill="#141414" textLength="63" lengthAdjust="spacingAndGlyphs">RNA</text>
<text x="1048.5" y="896.4" font-size="31" fill="#141414">-</text>
<text x="1378.2" y="896.4" font-size="31" fill="#141414">-</text>
<text x="1100.6" y="896.1" font-size="31" fill="#141414" textLength="95" lengthAdjust="spacingAndGlyphs"><tspan>[G</tspan><tspan font-size="20" dy="7.5">4</tspan><tspan font-size="31" dy="-7.5">A</tspan><tspan font-size="20" dy="7.5">4</tspan><tspan font-size="31" dy="-7.5">]</tspan><tspan font-size="20" dy="7.5">5</tspan></text>
<text x="1247.3" y="896.1" font-size="31" fill="#141414" textLength="82.5" lengthAdjust="spacingAndGlyphs"><tspan>[GA]</tspan><tspan font-size="20" dy="7.5">20</tspan></text>
<text x="1430.9" y="896.1" font-size="31" fill="#141414" textLength="95" lengthAdjust="spacingAndGlyphs"><tspan>[G</tspan><tspan font-size="20" dy="7.5">4</tspan><tspan font-size="31" dy="-7.5">A</tspan><tspan font-size="20" dy="7.5">4</tspan><tspan font-size="31" dy="-7.5">]</tspan><tspan font-size="20" dy="7.5">5</tspan></text>
<text x="1577.6" y="896.1" font-size="31" fill="#141414" textLength="82.5" lengthAdjust="spacingAndGlyphs"><tspan>[GA]</tspan><tspan font-size="20" dy="7.5">20</tspan></text>
<polygon points="1092.6,939.1 1220.7,939.1 1220.7,918" fill="#fff" stroke="#1e1e1e" stroke-width="1.9" stroke-linejoin="miter"/>
<polygon points="1229.9,939.1 1357.2,939.1 1357.2,918" fill="#fff" stroke="#1e1e1e" stroke-width="1.9" stroke-linejoin="miter"/>
<polygon points="1414,939.1 1542.3,939.1 1542.3,918" fill="#fff" stroke="#1e1e1e" stroke-width="1.9" stroke-linejoin="miter"/>
<polygon points="1547.1,939.1 1675.5,939.1 1675.5,918" fill="#fff" stroke="#1e1e1e" stroke-width="1.9" stroke-linejoin="miter"/>
<rect x="1035.7" y="948.2" width="654.8" height="76.2" fill="url(#blots)"/>
<rect x="1054.7" y="984.3" width="29" height="5" rx="2.5" ry="2.5" fill="url(#bgR)" opacity="0.5" filter="url(#b12s)"/>
<rect x="1098.7" y="985.5" width="28" height="4" rx="2.0" ry="2.0" fill="#000" opacity="0.28" filter="url(#b12s)"/>
<rect x="1143.5" y="985.8" width="30" height="4" rx="2.0" ry="2.0" fill="#000" opacity="0.2" filter="url(#b12s)"/>
<rect x="1190.2" y="985.8" width="29" height="4" rx="2.0" ry="2.0" fill="url(#bgR)" opacity="0.3" filter="url(#b12s)"/>
<rect x="1235.1" y="984.5" width="28" height="5.5" rx="2.8" ry="2.8" fill="url(#bgR)" opacity="0.75" filter="url(#b12s)"/>
<rect x="1278.9" y="985.6" width="31" height="4" rx="2.0" ry="2.0" fill="url(#bgR)" opacity="0.36" filter="url(#b12s)"/>
<rect x="1327.5" y="985.8" width="28" height="4" rx="2.0" ry="2.0" fill="url(#bgR)" opacity="0.3" filter="url(#b12s)"/>
<rect x="1372.0" y="984.5" width="30" height="4.5" rx="2.2" ry="2.2" fill="url(#bgL)" opacity="0.66" filter="url(#b12s)"/>
<rect x="1419.7" y="983.5" width="27" height="6.5" rx="3.2" ry="3.2" fill="#000" opacity="0.93" filter="url(#b12s)"/>
<rect x="1462.6" y="985.0" width="29" height="4.5" rx="2.2" ry="2.2" fill="url(#bgR)" opacity="0.55" filter="url(#b12s)"/>
<rect x="1508.3" y="984.8" width="30" height="4.5" rx="2.2" ry="2.2" fill="url(#bgR)" opacity="0.62" filter="url(#b12s)"/>
<rect x="1554.1" y="982.8" width="29" height="8" rx="4.0" ry="4.0" fill="#000" opacity="0.97" filter="url(#b12s)"/>
<rect x="1596.1" y="983.1" width="32" height="7" rx="3.5" ry="3.5" fill="#000" opacity="0.95" filter="url(#b12s)"/>
<rect x="1642.9" y="984.8" width="27" height="4.5" rx="2.2" ry="2.2" fill="url(#bgL)" opacity="0.8" filter="url(#b12s)"/>
<rect x="1035.7" y="948.2" width="654.8" height="76.2" fill="none" stroke="#2a2a2a" stroke-width="2.2"/>
<text x="976.5" y="1001.6" font-size="31" fill="#141414" textLength="58" lengthAdjust="spacingAndGlyphs">100-</text>
<text x="1701" y="993.5" font-size="31" fill="#141414" textLength="93.5" lengthAdjust="spacingAndGlyphs">SUZ12</text>
<rect x="1035.7" y="1052.2" width="654.8" height="75.6" fill="url(#bloth)"/>
<g filter="url(#b4)" fill="#000">
<rect x="1059.5" y="1097.5" width="27" height="22.0" rx="6" fill-opacity="0.14"/>
<rect x="1102.5" y="1100.3" width="26" height="20.0" rx="6" fill-opacity="0.14"/>
<rect x="1145.5" y="1099" width="29" height="22.5" rx="6" fill-opacity="0.14"/>
<rect x="1190.7" y="1097" width="28" height="20.75" rx="6" fill-opacity="0.14"/>
<rect x="1236.6" y="1095" width="24" height="19.0" rx="6" fill-opacity="0.14"/>
<rect x="1278.2" y="1095.5" width="26" height="18.5" rx="6" fill-opacity="0.14"/>
<rect x="1322.9" y="1092.5" width="30" height="20.75" rx="6" fill-opacity="0.14"/>
<rect x="1369.8" y="1091" width="29" height="21.5" rx="6" fill-opacity="0.14"/>
<rect x="1417.3" y="1089.7" width="27" height="20.0" rx="6" fill-opacity="0.14"/>
<rect x="1462.8" y="1089.8" width="27" height="23.5" rx="6" fill-opacity="0.14"/>
<rect x="1508.1" y="1091.6" width="31" height="25.5" rx="6" fill-opacity="0.14"/>
<rect x="1555.6" y="1092" width="28" height="23.0" rx="6" fill-opacity="0.14"/>
<rect x="1601.2" y="1093" width="27" height="22.0" rx="6" fill-opacity="0.14"/>
<rect x="1646.5" y="1092.5" width="29" height="25.5" rx="6" fill-opacity="0.14"/>
</g>
<rect x="1057.5" y="1089.5" width="31" height="16" rx="8.0" ry="8.0" fill="#000" opacity="1.0" filter="url(#b15)"/>
<rect x="1100.5" y="1094.3" width="30" height="12" rx="6.0" ry="6.0" fill="#000" opacity="1.0" filter="url(#b15)"/>
<rect x="1143.5" y="1090.5" width="33" height="17" rx="8.5" ry="8.5" fill="#000" opacity="1.0" filter="url(#b15)"/>
<rect x="1188.7" y="1090.2" width="32" height="13.5" rx="6.8" ry="6.8" fill="#000" opacity="1.0" filter="url(#b15)"/>
<rect x="1234.6" y="1090.0" width="28" height="10" rx="5.0" ry="5.0" fill="#000" opacity="1.0" filter="url(#b15)"/>
<rect x="1276.2" y="1091.0" width="30" height="9" rx="4.5" ry="4.5" fill="#000" opacity="0.78" filter="url(#b15)"/>
<rect x="1320.9" y="1085.8" width="34" height="13.5" rx="6.8" ry="6.8" fill="#000" opacity="1.0" filter="url(#b15)"/>
<rect x="1367.8" y="1083.5" width="33" height="15" rx="7.5" ry="7.5" fill="#000" opacity="1.0" filter="url(#b15)"/>
<rect x="1415.3" y="1083.7" width="31" height="12" rx="6.0" ry="6.0" fill="#000" opacity="1.0" filter="url(#b15)"/>
<rect x="1460.8" y="1080.3" width="31" height="19" rx="9.5" ry="9.5" fill="#000" opacity="1.0" filter="url(#b15)"/>
<rect x="1506.1" y="1080.1" width="35" height="23" rx="11.5" ry="11.5" fill="#000" opacity="1.0" filter="url(#b15)"/>
<rect x="1553.6" y="1083.0" width="32" height="18" rx="9.0" ry="9.0" fill="#000" opacity="1.0" filter="url(#b15)"/>
<rect x="1599.2" y="1085.0" width="31" height="16" rx="8.0" ry="8.0" fill="#000" opacity="1.0" filter="url(#b15)"/>
<rect x="1644.5" y="1081.0" width="33" height="23" rx="11.5" ry="11.5" fill="#000" opacity="1.0" filter="url(#b15)"/>
<rect x="1035.7" y="1052.2" width="654.8" height="75.6" fill="none" stroke="#2a2a2a" stroke-width="2.2"/>
<text x="992.5" y="1114.6" font-size="31" fill="#141414" textLength="42" lengthAdjust="spacingAndGlyphs">15-</text>
<text x="1701" y="1101.4" font-size="31" fill="#141414" textLength="37.5" lengthAdjust="spacingAndGlyphs">H3</text>
</svg></body></html>
